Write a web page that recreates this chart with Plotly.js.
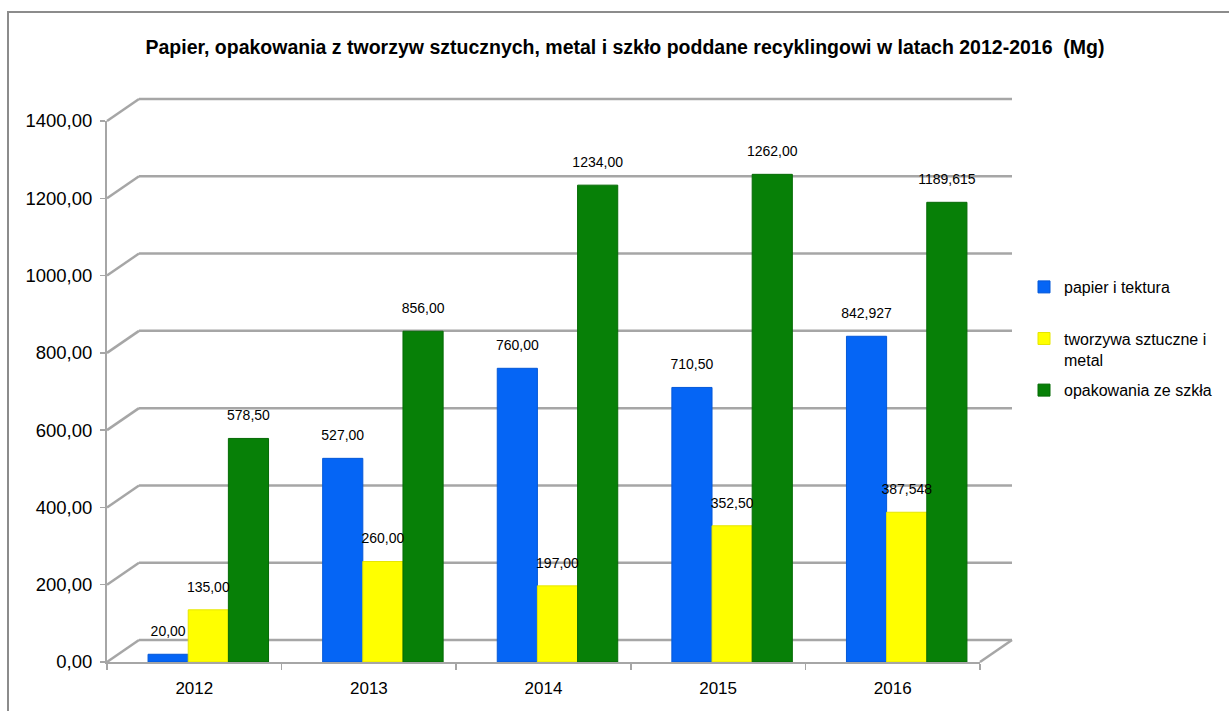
<!DOCTYPE html>
<html>
<head>
<meta charset="utf-8">
<script src="https://cdn.plot.ly/plotly-3.0.1.min.js"></script>
<style>html,body{margin:0;padding:0;background:#fff;}#chart{width:1229px;height:711px;}</style>
</head>
<body>
<div id="chart"></div>
<script>
// ---- data ----
const years = ['2012', '2013', '2014', '2015', '2016'];
const paperValues = [20, 527, 760, 710.5, 842.927];
const plasticValues = [135, 260, 197, 352.5, 387.548];
const glassValues = [578.5, 856, 1234, 1262, 1189.615];
const paperLabels = ['20,00', '527,00', '760,00', '710,50', '842,927'];
const plasticLabels = ['135,00', '260,00', '197,00', '352,50', '387,548'];
const glassLabels = ['578,50', '856,00', '1234,00', '1262,00', '1189,615'];
const seriesNames = ['papier i tektura<br>&nbsp;', 'tworzywa sztuczne i<br>metal', 'opakowania ze szkła'];
const yTicks = [0, 200, 400, 600, 800, 1000, 1200, 1400];
const Y_MAX = 1400;

// ---- geometry (pixels) ----
const W = 1229, H = 711;
const L = 107, T = 121, B = 49;
const FRONT_W = 873;      // width of front face of the floor
const DX = 32, DY = 22;   // depth offset of back wall
const R = W - L - FRONT_W - DX;
const PW = FRONT_W + DX;
const PH = H - T - B;
const BAR_SHIFT = 14;
const BAR_GAP = 0.31;
const px2paperX = p => (p - L) / PW;
const px2paperY = p => (H - B - p) / PH;

const colors = ['#0565f5', '#ffff00', '#078007'];
const lineColors = ['#0458d8', '#e6e600', '#056a05'];
const valueSets = [paperValues, plasticValues, glassValues];
const labelSets = [paperLabels, plasticLabels, glassLabels];
const FONT = 'Arial, Liberation Sans, sans-serif';

const traces = [];
// invisible trace on the front axis so that category axis 'x' gets the years
traces.push({type: 'bar', x: years, y: years.map(() => null), xaxis: 'x', yaxis: 'y',
  showlegend: false, hoverinfo: 'skip', marker: {color: 'rgba(0,0,0,0)'}});

valueSets.forEach((vals, i) => {
  traces.push({
    type: 'bar',
    x: years,
    y: vals,
    name: seriesNames[i],
    legendgroup: 'g' + i,
    offsetgroup: 'o' + i,
    xaxis: 'x2',
    yaxis: 'y',
    marker: {color: colors[i], line: {color: lineColors[i], width: 1}},
    hoverinfo: 'x+y'
  });
});
// value labels drawn on top of all bars
valueSets.forEach((vals, i) => {
  traces.push({
    type: 'scatter',
    mode: 'markers+text',
    x: years,
    y: vals,
    offsetgroup: 'o' + i,
    xaxis: 'x2',
    yaxis: 'y',
    showlegend: false,
    hoverinfo: 'skip',
    marker: {size: 22, opacity: 0},
    text: labelSets[i],
    textposition: 'top center',
    textfont: {family: FONT, size: 14, color: '#000'},
    cliponaxis: false
  });
});

const gridColor = '#a6a6a6';
const shapes = [];
yTicks.forEach(v => {
  const ya = v / Y_MAX;
  shapes.push({type: 'line', layer: 'below', xref: 'paper', xsizemode: 'pixel', xanchor: 0,
    x0: 0, x1: DX, yref: 'paper', ysizemode: 'pixel', yanchor: ya, y0: 0, y1: DY,
    line: {color: gridColor, width: 2.5}});
  shapes.push({type: 'line', layer: 'below', xref: 'paper', xsizemode: 'pixel', xanchor: 0,
    x0: DX, x1: DX + FRONT_W, yref: 'paper', ysizemode: 'pixel', yanchor: ya, y0: DY, y1: DY,
    line: {color: gridColor, width: 2.5}});
});
// right edge of floor
shapes.push({type: 'line', layer: 'below', xref: 'paper', xsizemode: 'pixel', xanchor: FRONT_W / PW,
  x0: 0, x1: DX, yref: 'paper', ysizemode: 'pixel', yanchor: 0, y0: 0, y1: DY,
  line: {color: gridColor, width: 2.5}});
// outer chart border (top & left)
shapes.push({type: 'path', layer: 'above', xref: 'paper', yref: 'paper',
  path: 'M ' + px2paperX(8) + ' ' + px2paperY(H + 5) + ' L ' + px2paperX(8) + ' ' + px2paperY(12) +
        ' L ' + px2paperX(W + 5) + ' ' + px2paperY(12),
  line: {color: '#8c8c8c', width: 2}});

const layout = {
  width: W, height: H,
  margin: {l: L, r: R, t: T, b: B, pad: 0, autoexpand: false},
  paper_bgcolor: '#ffffff', plot_bgcolor: 'rgba(0,0,0,0)',
  separators: ', ',
  font: {family: FONT, color: '#000'},
  title: {
    text: '<b>Papier, opakowania z tworzyw sztucznych, metal i szkło poddane recyklingowi w latach 2012-2016 &nbsp;(Mg)</b>',
    font: {family: FONT, size: 19.5, color: '#000'},
    xref: 'container', x: 625 / W, xanchor: 'center',
    yref: 'container', y: 1 - 47 / H, yanchor: 'middle'
  },
  barmode: 'group', bargap: BAR_GAP, bargroupgap: 0,
  scattermode: 'group', scattergap: BAR_GAP,
  xaxis: {
    type: 'category', domain: [0, FRONT_W / PW], anchor: 'y', automargin: false,
    showline: true, linecolor: gridColor, linewidth: 2,
    ticks: 'outside', tickson: 'boundaries', ticklen: 6, tickcolor: gridColor, tickwidth: 1.5,
    ticklabelstandoff: 10,
    tickfont: {size: 17}, showgrid: false, zeroline: false, fixedrange: true
  },
  xaxis2: {
    type: 'category', domain: [BAR_SHIFT / PW, (BAR_SHIFT + FRONT_W) / PW], anchor: 'y',
    visible: false, showgrid: false, zeroline: false, fixedrange: true
  },
  yaxis: {
    range: [0, Y_MAX], tickvals: yTicks, tickformat: '.2f', automargin: false,
    showline: true, linecolor: gridColor, linewidth: 2,
    ticks: 'outside', ticklen: 5, tickcolor: gridColor, tickwidth: 1.5,
    ticklabelstandoff: 4,
    tickfont: {size: 18.5}, showgrid: false, zeroline: false, fixedrange: true
  },
  legend: {
    x: px2paperX(1024), xanchor: 'left', y: px2paperY(270), yanchor: 'top',
    font: {family: FONT, size: 16, color: '#000'},
    traceorder: 'grouped', tracegroupgap: 7, valign: 'top',
    bgcolor: 'rgba(0,0,0,0)'
  },
  shapes: shapes
};

Plotly.newPlot('chart', traces, layout, {displayModeBar: false, staticPlot: true});
</script>
</body>
</html>
